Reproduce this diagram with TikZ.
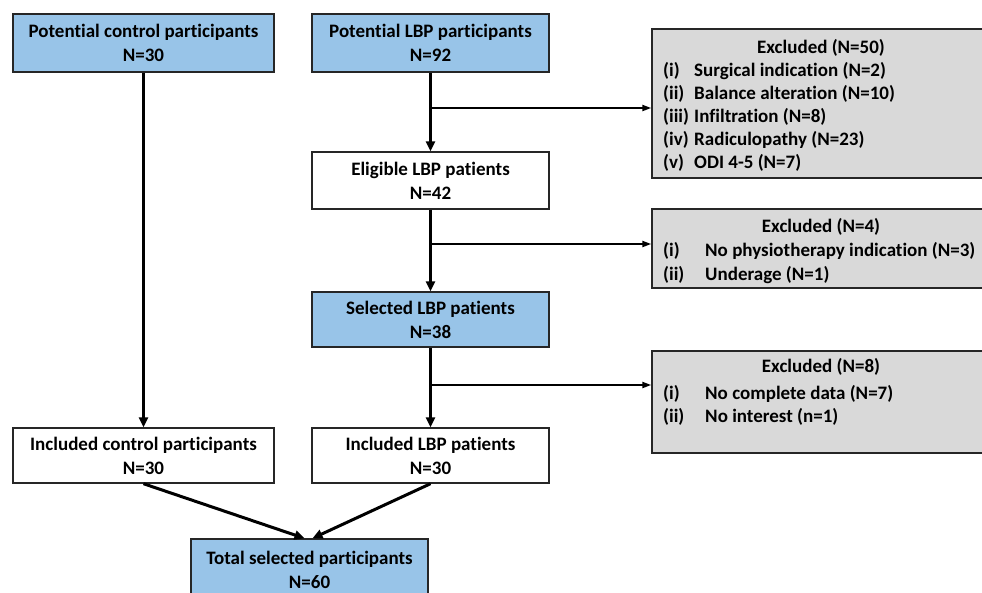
\documentclass[tikz,border=0pt]{standalone}
\usepackage{fontspec}
\setmainfont{Carlito}[Ligatures=NoCommon]
\usetikzlibrary{arrows.meta}
\definecolor{boxblue}{HTML}{98C4E8}
\definecolor{boxgray}{HTML}{D9D9D9}
\definecolor{edgecol}{HTML}{262626}
\begin{document}
\begin{tikzpicture}[x=1pt,y=-1pt,
  mainbox/.style={draw=edgecol, line width=1.4pt, align=center, inner sep=0pt,
    font=\fontsize{19}{24}\selectfont\bfseries},
  bluebox/.style={mainbox, fill=boxblue},
  whitebox/.style={mainbox, fill=white},
  exbox/.style={draw=edgecol, line width=1.4pt, fill=boxgray, inner sep=0pt},
  extext/.style={anchor=base west, inner sep=0pt, font=\fontsize{19}{23}\selectfont\bfseries},
  exhead/.style={anchor=base, inner sep=0pt, font=\fontsize{19}{23}\selectfont\bfseries},
  flow/.style={line width=3pt, -{Triangle[length=10pt,width=9pt]}},
  branch/.style={line width=2pt, -{Triangle[length=9pt,width=6pt]}}]
\useasboundingbox (0,0) rectangle (982,592);
\clip (0,0) rectangle (982,592);
\fill[white] (0,0) rectangle (982,592);

% main boxes
\node[bluebox, minimum width=261pt, minimum height=58pt] (ctrl0) at (143.5,43) {Potential control participants\\N=30};
\node[bluebox, minimum width=237pt, minimum height=58pt] (lbp0) at (430.5,43) {Potential LBP participants\\N=92};
\node[whitebox, minimum width=237pt, minimum height=57pt] (elig) at (430.5,180.5) {Eligible LBP patients\\N=42};
\node[bluebox, minimum width=237pt, minimum height=55pt] (sel) at (430.5,319.5) {Selected LBP patients\\N=38};
\node[whitebox, minimum width=237pt, minimum height=55pt] (inclbp) at (430.5,455.5) {Included LBP patients\\N=30};
\node[whitebox, minimum width=261pt, minimum height=55pt] (incctrl) at (143.5,455.5) {Included control participants\\N=30};
\node[bluebox, minimum width=237pt, minimum height=61pt] (total) at (309.5,569.5) {Total selected participants\\N=60};

% excluded boxes
\node[exbox, minimum width=338pt, minimum height=149pt] (ex1) at (821,103.5) {};
\node[exhead] (ex1h) at (821,53) {Excluded (N=50)};
\node[extext] (ex1a) at (663,76) {\makebox[31pt][l]{(i)}Surgical indication (N=2)};
\node[extext] (ex1b) at (663,99) {\makebox[31pt][l]{(ii)}Balance alteration (N=10)};
\node[extext] (ex1c) at (663,122) {\makebox[31pt][l]{(iii)}Infiltration (N=8)};
\node[extext] (ex1d) at (663,145) {\makebox[31pt][l]{(iv)}Radiculopathy (N=23)};
\node[extext] (ex1e) at (663,168) {\makebox[31pt][l]{(v)}ODI 4-5 (N=7)};

\node[exbox, minimum width=338pt, minimum height=79pt] (ex2) at (821,248.5) {};
\node[exhead] (ex2h) at (821,232) {Excluded (N=4)};
\node[extext] (ex2a) at (663,256) {\makebox[42pt][l]{(i)}No physiotherapy indication (N=3)};
\node[extext] (ex2b) at (663,280) {\makebox[42pt][l]{(ii)}Underage (N=1)};

\node[exbox, minimum width=338pt, minimum height=102pt] (ex3) at (821,402) {};
\node[exhead] (ex3h) at (821,372) {Excluded (N=8)};
\node[extext] (ex3a) at (663,399) {\makebox[42pt][l]{(i)}No complete data (N=7)};
\node[extext] (ex3b) at (663,422) {\makebox[42pt][l]{(ii)}No interest (n=1)};

% connectors
\draw[flow] (ctrl0.south) -- (incctrl.north);
\draw[flow] (lbp0.south) -- (elig.north);
\draw[flow] (elig.south) -- (sel.north);
\draw[flow] (sel.south) -- (inclbp.north);

\coordinate (b1) at (430.5,108);
\coordinate (b2) at (430.5,244);
\coordinate (b3) at (430.5,385);
\draw[branch] (b1) -- (b1 -| ex1.west);
\draw[branch] (b2) -- (b2 -| ex2.west);
\draw[branch] (b3) -- (b3 -| ex3.west);

\coordinate (t1) at ([xshift=-5pt]total.north);
\coordinate (t2) at ([xshift=3pt]total.north);
\draw[flow] (incctrl.south) -- (t1);
\draw[flow] (inclbp.south) -- (t2);
\end{tikzpicture}
\end{document}
